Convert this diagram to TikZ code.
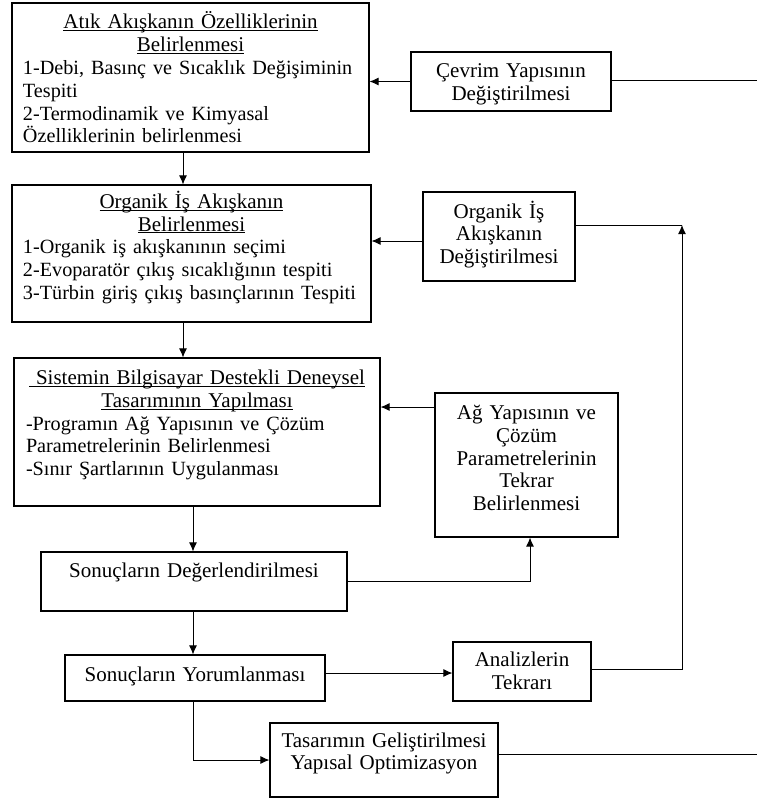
\documentclass[tikz,border=0pt]{standalone}
\usepackage{fontspec}
\setmainfont{Liberation Serif}
\usetikzlibrary{arrows.meta}
\setlength{\parindent}{0pt}
\newcommand{\listfont}{\fontsize{20.2}{22.8}\selectfont}
\newcommand{\padbottom}[1]{\par\nointerlineskip\vspace{#1}\hbox{}}
\newcommand{\titleline}[1]{\underline{\raisebox{0pt}[\height][0pt]{#1}}}

\begin{document}
\begin{tikzpicture}[x=1pt, y=-1pt, >={Latex[length=9pt, width=8pt]},
    box/.style={draw, line width=1.1pt, inner xsep=11pt, inner ysep=3pt, font=\fontsize{21}{22.8}\selectfont},
    link/.style={line width=1pt}]
  \useasboundingbox (0, 0) rectangle (757, 801);

  \node [box, minimum width=357, minimum height=149, text width=335] (Atik_node) at (190.5, 77.5)
    {\centering\titleline{Atık Akışkanın Özelliklerinin}\\\titleline{Belirlenmesi}\par
     \raggedright\listfont 1-Debi, Basınç ve Sıcaklık Değişiminin\\Tespiti\\2-Termodinamik ve Kimyasal\\Özelliklerinin belirlenmesi\par};
  \node [box, minimum width=200, minimum height=59, text width=178] (Cevrim_node) at (511, 81.5)
    {\centering Çevrim Yapısının\\Değiştirilmesi\padbottom{-6pt}};

  \node [box, minimum width=359, minimum height=137, text width=337] (Organik_node) at (191.5, 253.5)
    {\centering\titleline{Organik İş Akışkanın}\\\titleline{Belirlenmesi}\par
     \raggedright\listfont 1-Organik iş akışkanının seçimi\\2-Evoparatör çıkış sıcaklığının tespiti\\3-Türbin giriş çıkış basınçlarının Tespiti\padbottom{12pt}};
  \node [box, minimum width=152, minimum height=89, text width=130] (Degis_node) at (499, 236.5)
    {\centering Organik İş\\Akışkanın\\Değiştirilmesi\padbottom{4pt}};

  \node [box, minimum width=366, minimum height=148, text width=342] (Sistem_node) at (197, 432)
    {\centering\titleline{\ Sistemin Bilgisayar Destekli Deneysel}\\\titleline{Tasarımının Yapılması}\par
     \raggedright\listfont -Programın Ağ Yapısının ve Çözüm\\Parametrelerinin Belirlenmesi\\-Sınır Şartlarının Uygulanması\padbottom{14pt}};
  \node [box, minimum width=181, minimum height=144, text width=161] (Ag_node) at (526.5, 465)
    {\centering Ağ Yapısının ve\\Çözüm\\Parametrelerinin\\Tekrar\\Belirlenmesi\padbottom{14pt}};

  \node [box, minimum width=306, minimum height=59, text width=284] (Deger_node) at (194, 581.5)
    {\centering Sonuçların Değerlendirilmesi\padbottom{18pt}};
  \node [box, minimum width=260, minimum height=46, text width=238] (Yorum_node) at (195, 678)
    {\centering Sonuçların Yorumlanması\padbottom{4pt}};
  \node [box, minimum width=138, minimum height=59, text width=120, inner xsep=9pt] (Analiz_node) at (522, 671.5)
    {\centering Analizlerin\\Tekrarı\padbottom{2pt}};
  \node [box, minimum width=228, minimum height=74, text width=216, inner xsep=6pt] (Tasarim_node) at (384, 760)
    {\centering Tasarımın Geliştirilmesi\\Yapısal Optimizasyon\padbottom{13pt}};

  \coordinate (Cevrim_end) at (757, 80);
  \coordinate (Loop_top) at (682, 225);
  \coordinate (Tasarim_end) at (757, 754);

  \draw [link, ->] ([xshift=-7.5]Atik_node.south) -- ([xshift=-7.5]Atik_node.south |- Organik_node.north);
  \draw [link, ->] ([xshift=-8.5]Organik_node.south) -- ([xshift=-8.5]Organik_node.south |- Sistem_node.north);
  \draw [link, ->] ([xshift=-4]Sistem_node.south) -- ([xshift=-4]Sistem_node.south |- Deger_node.north);
  \draw [link, ->] ([xshift=-1]Deger_node.south) -- ([xshift=-1]Deger_node.south |- Yorum_node.north);
  \draw [link, ->] ([xshift=-2]Yorum_node.south) |- (Tasarim_node.west);

  \draw [link, ->] (Cevrim_node.west) -- (Cevrim_node.west -| Atik_node.east);
  \draw [link] ([yshift=1.5]Cevrim_node.east) -- ([yshift=1.5]Cevrim_node.east -| Cevrim_end);

  \draw [link, ->] ([yshift=-4.5]Degis_node.west) -- ([yshift=-4.5]Degis_node.west -| Organik_node.east);
  \draw [link] ([yshift=11.5]Degis_node.east) -- ([yshift=11.5]Degis_node.east -| Loop_top);
  \draw [link, ->] ([yshift=2.5]Analiz_node.east) -| (Loop_top);

  \draw [link, ->] ([yshift=58]Ag_node.west) -- ([yshift=58]Ag_node.west -| Sistem_node.east);
  \draw [link, ->] (Deger_node.east) -| ([xshift=3.5]Ag_node.south);

  \draw [link, ->] ([yshift=5]Yorum_node.east) -- ([yshift=5]Yorum_node.east -| Analiz_node.west);
  \draw [link] ([yshift=6]Tasarim_node.east) -- ([yshift=6]Tasarim_node.east -| Tasarim_end);
\end{tikzpicture}
\end{document}
